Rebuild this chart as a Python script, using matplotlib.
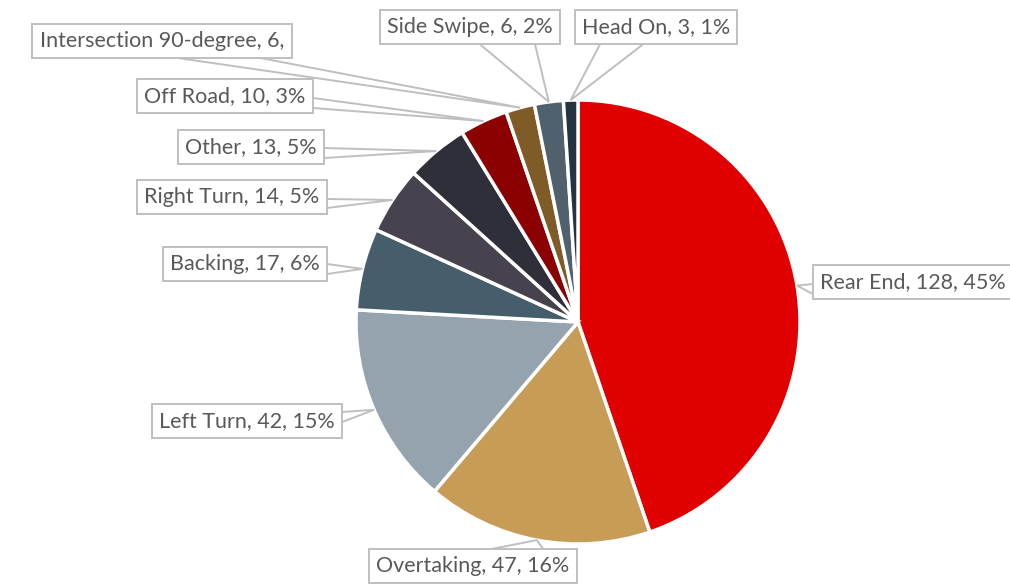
import numpy as np
import matplotlib
matplotlib.use("Agg")
import matplotlib.pyplot as plt

# crash types, counts and shares (clockwise from 12 o'clock)
categories = ["Rear End", "Overtaking", "Left Turn", "Backing", "Right Turn",
              "Other", "Off Road", "Intersection 90-degree", "Side Swipe", "Head On"]
counts = [128, 47, 42, 17, 14, 13, 10, 6, 6, 3]
pct_labels = ["45%", "16%", "15%", "6%", "5%", "5%", "3%", "", "2%", "1%"]
colors = ["#E00000", "#C69C57", "#94A3AD", "#465E6C", "#46434F",
          "#2E2F38", "#8B0000", "#7F5B28", "#50606C", "#263440"]

W, H = 1010, 586

def py(y):
    # pixel row -> data y (y axis points up)
    return H - y

fig = plt.figure(figsize=(W / 100, H / 100), dpi=100)
ax = fig.add_axes([0, 0, 1, 1])

cx, cy, r = 578, py(322), 222
wedges, _ = ax.pie(counts, colors=colors, startangle=90, counterclock=False,
                   center=(cx, cy), radius=r, frame=True,
                   wedgeprops=dict(edgecolor="white", linewidth=2.5))
ax.set_xlim(0, W)
ax.set_ylim(0, H)
ax.set_aspect("equal")
ax.axis("off")

# label text centres (pixels), and which box side the callout leaves from,
# with the two base positions along that side
label_pos = [(913, 282), (473, 566), (247, 421), (245, 264), (232, 197),
             (251, 147), (225, 96), (162, 41), (470, 27), (656, 27)]
pointer = [
    ("left", 284, 294),
    ("top", 493, 543),
    ("right", 412, 422),
    ("right", 264, 274),
    ("right", 199, 208),
    ("right", 148, 158),
    ("right", 98, 108),
    ("bottom", 180, 262),
    ("bottom", 480, 535),
    ("bottom", 600, 643),
]

line_col = "#BFBFBF"
texts = []
for i, w in enumerate(wedges):
    if pct_labels[i]:
        txt = f"{categories[i]}, {counts[i]}, {pct_labels[i]}"
    else:
        txt = f"{categories[i]}, {counts[i]},"
    tx, ty = label_pos[i]
    t = ax.text(tx, py(ty), txt, ha="center", va="center", fontsize=15.5,
                family="Lato", color="#595959", zorder=4,
                bbox=dict(boxstyle="square,pad=0.34", fc="white", ec=line_col, lw=1.4))
    texts.append(t)

fig.canvas.draw()
renderer = fig.canvas.get_renderer()
inv = ax.transData.inverted()

for i, w in enumerate(wedges):
    mid = np.deg2rad((w.theta1 + w.theta2) / 2)
    axp = w.center[0] + w.r * np.cos(mid)
    ayp = w.center[1] + w.r * np.sin(mid)
    ext = texts[i].get_bbox_patch().get_window_extent(renderer)
    (x0, y0), (x1, y1) = inv.transform([(ext.x0, ext.y0), (ext.x1, ext.y1)])
    side, a, b = pointer[i]
    if side == "left":
        pts = [(x0, py(a)), (x0, py(b))]
    elif side == "right":
        pts = [(x1, py(a)), (x1, py(b))]
    elif side == "top":
        pts = [(a, y1), (b, y1)]
    else:
        pts = [(a, y0), (b, y0)]
    ax.plot([pts[0][0], axp, pts[1][0]], [pts[0][1], ayp, pts[1][1]],
            color=line_col, lw=1.4, zorder=3, solid_joinstyle="miter")

fig.savefig("out.png", dpi=100)
plt.close(fig)
